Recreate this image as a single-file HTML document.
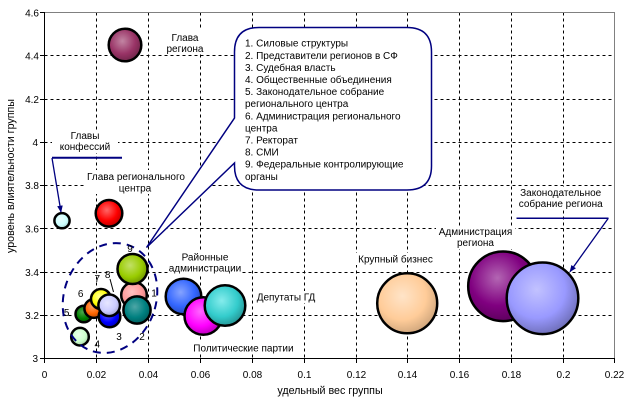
<!DOCTYPE html>
<html><head><meta charset="utf-8">
<style>
html,body{margin:0;padding:0;background:#fff;}
svg{display:block;}
text{font-family:"Liberation Sans",Arial,sans-serif;fill:#000;}
</style></head>
<body>
<svg width="632" height="400" viewBox="0 0 632 400" xmlns="http://www.w3.org/2000/svg">
<defs>
<radialGradient id="g1" cx="0.42" cy="0.38" r="0.66"><stop offset="0" stop-color="#c285a3"/><stop offset="0.6" stop-color="#993366"/><stop offset="1" stop-color="#6b2447"/></radialGradient>
<radialGradient id="g2" cx="0.42" cy="0.38" r="0.66"><stop offset="0" stop-color="#eaffff"/><stop offset="0.6" stop-color="#ccffff"/><stop offset="1" stop-color="#a3cccc"/></radialGradient>
<radialGradient id="g3" cx="0.42" cy="0.38" r="0.66"><stop offset="0" stop-color="#ff6666"/><stop offset="0.6" stop-color="#ff0000"/><stop offset="1" stop-color="#b30000"/></radialGradient>
<radialGradient id="g4" cx="0.42" cy="0.38" r="0.66"><stop offset="0" stop-color="#c2e066"/><stop offset="0.6" stop-color="#99cc00"/><stop offset="1" stop-color="#6b8f00"/></radialGradient>
<radialGradient id="g5" cx="0.42" cy="0.38" r="0.66"><stop offset="0" stop-color="#ffc2c2"/><stop offset="0.6" stop-color="#ff9999"/><stop offset="1" stop-color="#cc7a7a"/></radialGradient>
<radialGradient id="g6" cx="0.42" cy="0.38" r="0.66"><stop offset="0" stop-color="#4da6a6"/><stop offset="0.6" stop-color="#008080"/><stop offset="1" stop-color="#005a5a"/></radialGradient>
<radialGradient id="g7" cx="0.42" cy="0.38" r="0.66"><stop offset="0" stop-color="#e6e6ff"/><stop offset="0.6" stop-color="#ccccff"/><stop offset="1" stop-color="#a3a3cc"/></radialGradient>
<radialGradient id="g8" cx="0.42" cy="0.38" r="0.66"><stop offset="0" stop-color="#6666ff"/><stop offset="0.6" stop-color="#0000ff"/><stop offset="1" stop-color="#0000b3"/></radialGradient>
<radialGradient id="g9" cx="0.42" cy="0.38" r="0.66"><stop offset="0" stop-color="#ffff99"/><stop offset="0.6" stop-color="#ffff00"/><stop offset="1" stop-color="#b3b300"/></radialGradient>
<radialGradient id="g10" cx="0.42" cy="0.38" r="0.66"><stop offset="0" stop-color="#ffa366"/><stop offset="0.6" stop-color="#ff6600"/><stop offset="1" stop-color="#b34700"/></radialGradient>
<radialGradient id="g11" cx="0.42" cy="0.38" r="0.66"><stop offset="0" stop-color="#4da64d"/><stop offset="0.6" stop-color="#008000"/><stop offset="1" stop-color="#005a00"/></radialGradient>
<radialGradient id="g12" cx="0.42" cy="0.38" r="0.66"><stop offset="0" stop-color="#eaffea"/><stop offset="0.6" stop-color="#ccffcc"/><stop offset="1" stop-color="#a3cca3"/></radialGradient>
<radialGradient id="g13" cx="0.42" cy="0.38" r="0.66"><stop offset="0" stop-color="#85a3ff"/><stop offset="0.6" stop-color="#3366ff"/><stop offset="1" stop-color="#2447b3"/></radialGradient>
<radialGradient id="g14" cx="0.42" cy="0.38" r="0.66"><stop offset="0" stop-color="#ff66ff"/><stop offset="0.6" stop-color="#ff00ff"/><stop offset="1" stop-color="#b300b3"/></radialGradient>
<radialGradient id="g15" cx="0.42" cy="0.38" r="0.66"><stop offset="0" stop-color="#85ecec"/><stop offset="0.6" stop-color="#33cccc"/><stop offset="1" stop-color="#248f8f"/></radialGradient>
<radialGradient id="g16" cx="0.42" cy="0.38" r="0.66"><stop offset="0" stop-color="#ffe4c8"/><stop offset="0.6" stop-color="#ffcc99"/><stop offset="1" stop-color="#cca37a"/></radialGradient>
<radialGradient id="g17" cx="0.42" cy="0.38" r="0.66"><stop offset="0" stop-color="#b366b3"/><stop offset="0.6" stop-color="#800080"/><stop offset="1" stop-color="#5a005a"/></radialGradient>
<radialGradient id="g18" cx="0.42" cy="0.38" r="0.66"><stop offset="0" stop-color="#c2c2ff"/><stop offset="0.6" stop-color="#9999ff"/><stop offset="1" stop-color="#6b6bb3"/></radialGradient>
<marker id="arr" viewBox="0 0 10 10" refX="9" refY="5" markerWidth="7" markerHeight="7" orient="auto" markerUnits="userSpaceOnUse"><path d="M0,1 L10,5 L0,9 Z" fill="#000080"/></marker>
</defs>

<rect x="0" y="0" width="632" height="400" fill="#fff"/>

<!-- grid -->
<g stroke="#000" stroke-width="1" stroke-dasharray="3,3" fill="none">
<line x1="44.5" y1="315.5" x2="614.5" y2="315.5"/>
<line x1="44.5" y1="272.5" x2="614.5" y2="272.5"/>
<line x1="44.5" y1="228.5" x2="614.5" y2="228.5"/>
<line x1="44.5" y1="185.5" x2="614.5" y2="185.5"/>
<line x1="44.5" y1="142.5" x2="614.5" y2="142.5"/>
<line x1="44.5" y1="99.5" x2="614.5" y2="99.5"/>
<line x1="44.5" y1="55.5" x2="614.5" y2="55.5"/>
<line x1="96.5" y1="12.5" x2="96.5" y2="358.5"/>
<line x1="148.5" y1="12.5" x2="148.5" y2="358.5"/>
<line x1="200.5" y1="12.5" x2="200.5" y2="358.5"/>
<line x1="252.5" y1="12.5" x2="252.5" y2="358.5"/>
<line x1="304.5" y1="12.5" x2="304.5" y2="358.5"/>
<line x1="356.5" y1="12.5" x2="356.5" y2="358.5"/>
<line x1="407.5" y1="12.5" x2="407.5" y2="358.5"/>
<line x1="459.5" y1="12.5" x2="459.5" y2="358.5"/>
<line x1="511.5" y1="12.5" x2="511.5" y2="358.5"/>
<line x1="563.5" y1="12.5" x2="563.5" y2="358.5"/>
</g>
<!-- plot border -->
<polyline points="44.5,12.5 614.5,12.5 614.5,358.5" fill="none" stroke="#808080" stroke-width="1"/>
<!-- axes -->
<g stroke="#000" stroke-width="1">
<line x1="44.5" y1="12" x2="44.5" y2="359"/>
<line x1="44" y1="358.5" x2="615" y2="358.5"/>
<line x1="40" y1="358.5" x2="44.5" y2="358.5"/>
<line x1="40" y1="315.5" x2="44.5" y2="315.5"/>
<line x1="40" y1="272.5" x2="44.5" y2="272.5"/>
<line x1="40" y1="228.5" x2="44.5" y2="228.5"/>
<line x1="40" y1="185.5" x2="44.5" y2="185.5"/>
<line x1="40" y1="142.5" x2="44.5" y2="142.5"/>
<line x1="40" y1="99.5" x2="44.5" y2="99.5"/>
<line x1="40" y1="55.5" x2="44.5" y2="55.5"/>
<line x1="40" y1="12.5" x2="44.5" y2="12.5"/>
<line x1="44.5" y1="358.5" x2="44.5" y2="363"/>
<line x1="96.5" y1="358.5" x2="96.5" y2="363"/>
<line x1="148.5" y1="358.5" x2="148.5" y2="363"/>
<line x1="200.5" y1="358.5" x2="200.5" y2="363"/>
<line x1="252.5" y1="358.5" x2="252.5" y2="363"/>
<line x1="304.5" y1="358.5" x2="304.5" y2="363"/>
<line x1="356.5" y1="358.5" x2="356.5" y2="363"/>
<line x1="407.5" y1="358.5" x2="407.5" y2="363"/>
<line x1="459.5" y1="358.5" x2="459.5" y2="363"/>
<line x1="511.5" y1="358.5" x2="511.5" y2="363"/>
<line x1="563.5" y1="358.5" x2="563.5" y2="363"/>
<line x1="614.5" y1="358.5" x2="614.5" y2="363"/>
</g>

<!-- tick labels -->
<g font-size="10" text-anchor="end">
<text x="39" y="16.5">4.6</text>
<text x="39" y="59.5">4.4</text>
<text x="39" y="103">4.2</text>
<text x="38" y="146">4</text>
<text x="39" y="189">3.8</text>
<text x="39" y="232.5">3.6</text>
<text x="39" y="276">3.4</text>
<text x="39" y="319">3.2</text>
<text x="38" y="362">3</text>
</g>
<g font-size="10" text-anchor="middle">
<text x="44.5" y="378">0</text>
<text x="96.5" y="378">0.02</text>
<text x="148.5" y="378">0.04</text>
<text x="200.5" y="378">0.06</text>
<text x="252.5" y="378">0.08</text>
<text x="304.5" y="378">0.1</text>
<text x="356.5" y="378">0.12</text>
<text x="407.5" y="378">0.14</text>
<text x="459.5" y="378">0.16</text>
<text x="511.5" y="378">0.18</text>
<text x="563.5" y="378">0.2</text>
<text x="614.5" y="378">0.22</text>
</g>
<text x="330" y="394" font-size="10.7" text-anchor="middle">удельный вес группы</text>
<text transform="translate(14,176) rotate(-90)" font-size="10.7" text-anchor="middle">уровень влиятельности группы</text>

<!-- label background boxes -->
<g fill="#fff">
<rect x="160" y="30" width="50" height="24"/>
<rect x="52" y="130" width="66" height="23"/>
<rect x="86" y="170" width="100" height="24"/>
<rect x="170" y="251" width="72" height="23"/>
<rect x="254" y="291" width="68" height="12"/>
<rect x="190" y="342" width="106" height="12"/>
<rect x="355" y="253" width="81" height="12"/>
<rect x="436" y="226" width="79" height="23"/>
<rect x="513" y="187" width="96" height="23"/>
</g>

<!-- bubbles -->
<g stroke="#000" stroke-width="2.5">
<circle cx="125" cy="45" r="16.3" fill="url(#g1)"/>
<circle cx="62" cy="220.7" r="7.6" fill="url(#g2)"/>
<circle cx="109" cy="213.3" r="13.3" fill="url(#g3)"/>
<circle cx="80" cy="336.7" r="8.8" fill="url(#g12)"/>
<circle cx="83.8" cy="314" r="8.3" fill="url(#g11)"/>
<circle cx="93.8" cy="308.5" r="9.4" fill="url(#g10)"/>
<circle cx="101" cy="299" r="10" fill="url(#g9)"/>
<circle cx="109.5" cy="316.5" r="10.8" fill="url(#g8)"/>
<circle cx="109.2" cy="305.3" r="10.8" fill="url(#g7)"/>
<circle cx="134" cy="295" r="12.8" fill="url(#g5)"/>
<circle cx="132.5" cy="269" r="15" fill="url(#g4)"/>
<circle cx="137" cy="310" r="13.6" fill="url(#g6)"/>
<circle cx="183.5" cy="296.5" r="17.8" fill="url(#g13)"/>
<circle cx="203.3" cy="316" r="18.8" fill="url(#g14)"/>
<circle cx="225" cy="305.5" r="20.3" fill="url(#g15)"/>
<circle cx="407.2" cy="303.3" r="30" fill="url(#g16)"/>
<circle cx="503" cy="286.3" r="34.8" fill="url(#g17)"/>
<circle cx="542.5" cy="298.3" r="35.8" fill="url(#g18)"/>
</g>

<!-- dashed ellipse -->
<ellipse cx="110" cy="298" rx="46" ry="56" transform="rotate(20 110 298)" fill="none" stroke="#000080" stroke-width="2" stroke-dasharray="8,6"/>

<!-- number labels -->
<g font-size="10" text-anchor="middle">
<text x="130" y="252">9</text>
<text x="154" y="296.5">1</text>
<text x="142" y="340">2</text>
<text x="119" y="340">3</text>
<text x="97.3" y="347.5">4</text>
<text x="66.7" y="316">5</text>
<text x="80.7" y="297">6</text>
<text x="97.3" y="282">7</text>
<text x="107.7" y="278">8</text>
</g>
<line x1="110" y1="279" x2="113.5" y2="292" stroke="#000" stroke-width="1"/>

<!-- text labels -->
<g font-size="10" text-anchor="middle">
<text x="185" y="41">Глава</text>
<text x="185" y="52">региона</text>
<text x="85" y="139">Главы</text>
<text x="85" y="150">конфессий</text>
<text x="136" y="180">Глава регионального</text>
<text x="135" y="191.5">центра</text>
<text x="205" y="260.7">Районные</text>
<text x="205" y="271.7">администрации</text>
<text x="395.5" y="262.7">Крупный бизнес</text>
<text x="475.5" y="235">Администрация</text>
<text x="475.5" y="246">региона</text>
<text x="560.7" y="196">Законодательное</text>
<text x="560.7" y="207">собрание региона</text>
</g>
<g font-size="10">
<text x="256.7" y="300.7">Депутаты ГД</text>
<text x="193.3" y="351.7">Политические партии</text>
</g>

<!-- arrows -->
<line x1="52" y1="157.7" x2="122" y2="157.7" stroke="#000080" stroke-width="2"/>
<line x1="52" y1="158" x2="61" y2="212" stroke="#000080" stroke-width="1.3" marker-end="url(#arr)"/>
<line x1="516.5" y1="218.3" x2="608.5" y2="218.3" stroke="#000080" stroke-width="1.5"/>
<line x1="608.3" y1="218.3" x2="570" y2="271.7" stroke="#000080" stroke-width="1.3" marker-end="url(#arr)"/>

<!-- callout -->
<path d="M259,27.5 H407 Q431.5,27.5 431.5,52 V166 Q431.5,190 407,190 H259 Q234.5,190 234.5,166 V163 L146.5,247.5 L234.5,118 V52 Q234.5,27.5 259,27.5 Z" fill="#fff" stroke="#000080" stroke-width="1.5"/>
<g font-size="10">
<text x="245" y="46.7">1. Силовые структуры</text>
<text x="245" y="58.8">2. Представители регионов в СФ</text>
<text x="245" y="70.9">3. Судебная власть</text>
<text x="245" y="83">4. Общественные объединения</text>
<text x="245" y="95.1">5. Законодательное собрание</text>
<text x="245" y="107.2">регионального центра</text>
<text x="245" y="119.3">6. Администрация регионального</text>
<text x="245" y="131.4">центра</text>
<text x="245" y="143.5">7. Ректорат</text>
<text x="245" y="155.6">8. СМИ</text>
<text x="245" y="167.7">9. Федеральные контролирующие</text>
<text x="245" y="179.8">органы</text>
</g>
</svg>
</body></html>
